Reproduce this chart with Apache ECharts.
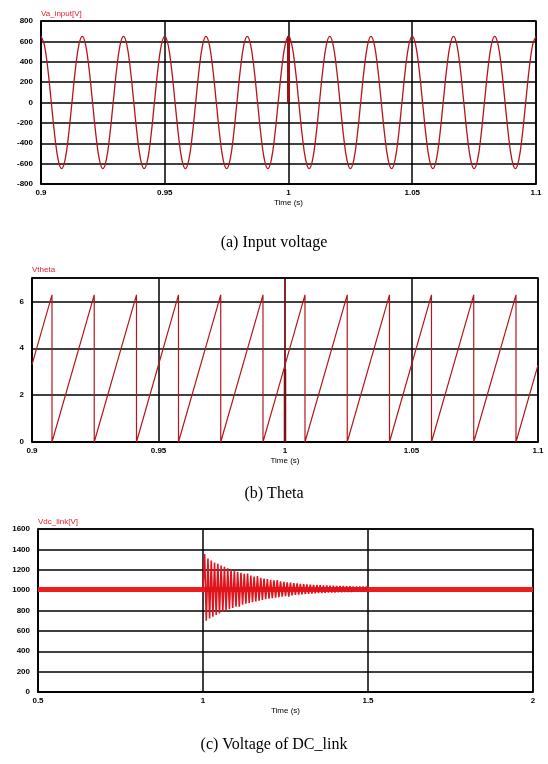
<!DOCTYPE html>
<html>
<head>
<meta charset="utf-8">
<script src="https://cdn.jsdelivr.net/npm/echarts@6/dist/echarts.min.js"></script>
<style>
  html, body { margin: 0; padding: 0; background: #fff; }
  #chart { width: 548px; height: 764px; }
</style>
</head>
<body>
<div id="chart"></div>
<script>
// (a) input voltage, one sample every 1/720 s starting at 0.9 s
const vaStart = 0.9;
const vaStep = 1 / 720;
const vaValues = [
  650, 563, 325, 0, -325, -563, -650, -563, -325, 0, 325, 563,
  650, 563, 325, 0, -325, -563, -650, -563, -325, 0, 325, 563,
  650, 563, 325, 0, -325, -563, -650, -563, -325, 0, 325, 563,
  650, 563, 325, 0, -325, -563, -650, -563, -325, 0, 325, 563,
  650, 563, 325, 0, -325, -563, -650, -563, -325, 0, 325, 563,
  650, 563, 325, 0, -325, -563, -650, -563, -325, 0, 325, 563,
  650, 563, 325, 0, -325, -563, -650, -563, -325, 0, 325, 563,
  650, 563, 325, 0, -325, -563, -650, -563, -325, 0, 325, 563,
  650, 563, 325, 0, -325, -563, -650, -563, -325, 0, 325, 563,
  650, 563, 325, 0, -325, -563, -650, -563, -325, 0, 325, 563,
  650, 563, 325, 0, -325, -563, -650, -563, -325, 0, 325, 563,
  650, 563, 325, 0, -325, -563, -650, -563, -325, 0, 325, 563,
  650
];
const vaSpike = [[1.0, 650], [1.0, 0]];
const vaTimeTicks = [0.9, 0.95, 1, 1.05, 1.1];
const vaVoltTicks = [-800, -600, -400, -200, 0, 200, 400, 600, 800];

// (b) theta: ramps to 2*pi then drops to 0
const thetaPoints = [
  [0.9, 3.3],
  [0.9079, 6.28], [0.9079, 0],
  [0.9246, 6.28], [0.9246, 0],
  [0.9413, 6.28], [0.9413, 0],
  [0.9579, 6.28], [0.9579, 0],
  [0.9746, 6.28], [0.9746, 0],
  [0.9913, 6.28], [0.9913, 0],
  [1.0, 3.28], [1.0, 6.95], [1.0, 0], [1.0, 3.28],
  [1.0079, 6.28], [1.0079, 0],
  [1.0246, 6.28], [1.0246, 0],
  [1.0413, 6.28], [1.0413, 0],
  [1.0579, 6.28], [1.0579, 0],
  [1.0746, 6.28], [1.0746, 0],
  [1.0913, 6.28], [1.0913, 0],
  [1.1, 3.28]
];
const thetaSpike = [[1.0, 0], [1.0, 3.1]];
const thetaTimeTicks = [0.9, 0.95, 1, 1.05, 1.1];
const thetaTicks = [0, 2, 4, 6];
const thetaMax = 7;

// (c) dc link voltage: steady ripple band plus the disturbance after 1 s
const dcBand = [[0.5, 1005], [2, 1005]];
const dcOscStart = 1.0;
const dcOscStep = 0.005;
const dcOscValues = [
  1010, 1355, 700, 1310, 722, 1290, 740, 1272, 757, 1258,
  772, 1242, 786, 1228, 800, 1214, 812, 1202, 824, 1190,
  836, 1180, 836, 1170, 856, 1160, 866, 1162, 874, 1142,
  882, 1134, 890, 1138, 897, 1120, 904, 1114, 910, 1108,
  916, 1102, 922, 1096, 927, 1098, 932, 1086, 937, 1081,
  941, 1077, 935, 1073, 949, 1069, 953, 1066, 956, 1062,
  959, 1059, 962, 1057, 964, 1054, 966, 1052, 968, 1050,
  970, 1048, 972, 1047, 973, 1045, 975, 1044, 976, 1043,
  977, 1042, 978, 1041, 979, 1040, 980, 1039, 981, 1038,
  982, 1037, 983, 1036, 984, 1036, 984, 1035, 985, 1035,
  985
];
const dcTimeTicks = [0.5, 1, 1.5, 2];
const dcVoltTicks = [0, 200, 400, 600, 800, 1000, 1200, 1400, 1600];

const vaData = vaValues.map((v, i) => [vaStart + i * vaStep, v]);
const dcOscData = dcOscValues.map((v, i) => [dcOscStart + i * dcOscStep, v]);

const black = '#000';
const gridLine = { color: black, width: 1.5 };

function timeAxis(gridIndex, ticks) {
  return {
    type: 'value',
    gridIndex: gridIndex,
    min: ticks[0],
    max: ticks[ticks.length - 1],
    interval: Math.round((ticks[1] - ticks[0]) * 1e6) / 1e6,
    name: 'Time (s)',
    nameLocation: 'middle',
    nameGap: 15,
    nameTextStyle: { fontSize: 8, color: black, fontFamily: 'Liberation Sans' },
    axisLine: { show: true, onZero: false, lineStyle: gridLine },
    axisTick: { show: false },
    axisLabel: {
      fontSize: 8, fontWeight: 'bold', color: black, margin: 5,
      fontFamily: 'Liberation Sans',
      formatter: v => String(+v.toFixed(3))
    },
    splitLine: { show: true, lineStyle: gridLine }
  };
}

function valueAxis(gridIndex, ticks, max) {
  return {
    type: 'value',
    gridIndex: gridIndex,
    min: ticks[0],
    max: max,
    interval: ticks[1] - ticks[0],
    axisLine: { show: true, onZero: false, lineStyle: gridLine },
    axisTick: { show: false },
    axisLabel: {
      fontSize: 8, fontWeight: 'bold', color: black, margin: 8,
      fontFamily: 'Liberation Sans',
      showMaxLabel: max === ticks[ticks.length - 1],
      formatter: v => String(v)
    },
    splitLine: { show: true, lineStyle: gridLine }
  };
}

function label(text, x, y) {
  return {
    type: 'text', x: x, y: y,
    style: { text: text, fill: '#e0202a', fontSize: 8, fontFamily: 'Liberation Sans', verticalAlign: 'middle' }
  };
}

function caption(text, y) {
  return {
    type: 'text', x: 274, y: y,
    style: { text: text, fill: black, fontSize: 16, fontFamily: 'Liberation Serif', align: 'center', verticalAlign: 'middle' }
  };
}

const chart = echarts.init(document.getElementById('chart'));

chart.setOption({
  animation: false,
  backgroundColor: '#fff',
  grid: [
    { left: 41, top: 21, width: 495, height: 163, show: true, borderColor: black, borderWidth: 1.5 },
    { left: 32, top: 278, width: 506, height: 164, show: true, borderColor: black, borderWidth: 1.5 },
    { left: 38, top: 529, width: 495, height: 163, show: true, borderColor: black, borderWidth: 1.5 }
  ],
  xAxis: [
    timeAxis(0, vaTimeTicks),
    timeAxis(1, thetaTimeTicks),
    timeAxis(2, dcTimeTicks)
  ],
  yAxis: [
    valueAxis(0, vaVoltTicks, vaVoltTicks[vaVoltTicks.length - 1]),
    valueAxis(1, thetaTicks, thetaMax),
    valueAxis(2, dcVoltTicks, dcVoltTicks[dcVoltTicks.length - 1])
  ],
  series: [
    {
      type: 'line', xAxisIndex: 0, yAxisIndex: 0, data: vaData,
      showSymbol: false, smooth: 0.4,
      lineStyle: { color: '#b5161c', width: 1.3 }
    },
    {
      type: 'line', xAxisIndex: 0, yAxisIndex: 0, data: vaSpike,
      showSymbol: false, lineStyle: { color: '#a01015', width: 3 }
    },
    {
      type: 'line', xAxisIndex: 1, yAxisIndex: 1, data: thetaPoints,
      showSymbol: false, lineStyle: { color: '#b5161c', width: 1.2 }
    },
    {
      type: 'line', xAxisIndex: 1, yAxisIndex: 1, data: thetaSpike,
      showSymbol: false, lineStyle: { color: '#7a1010', width: 2.5 }
    },
    {
      type: 'line', xAxisIndex: 2, yAxisIndex: 2, data: dcBand,
      showSymbol: false, lineStyle: { color: '#ee1c1c', width: 5 }
    },
    {
      type: 'line', xAxisIndex: 2, yAxisIndex: 2, data: dcOscData,
      showSymbol: false, lineStyle: { color: '#e0141c', width: 1.6 }
    }
  ],
  graphic: [
    label('Va_input[V]', 41, 14),
    label('Vtheta', 32, 270),
    label('Vdc_link[V]', 38, 522),
    caption('(a) Input voltage', 243),
    caption('(b) Theta', 494),
    caption('(c) Voltage of DC_link', 745)
  ]
});
</script>
</body>
</html>
